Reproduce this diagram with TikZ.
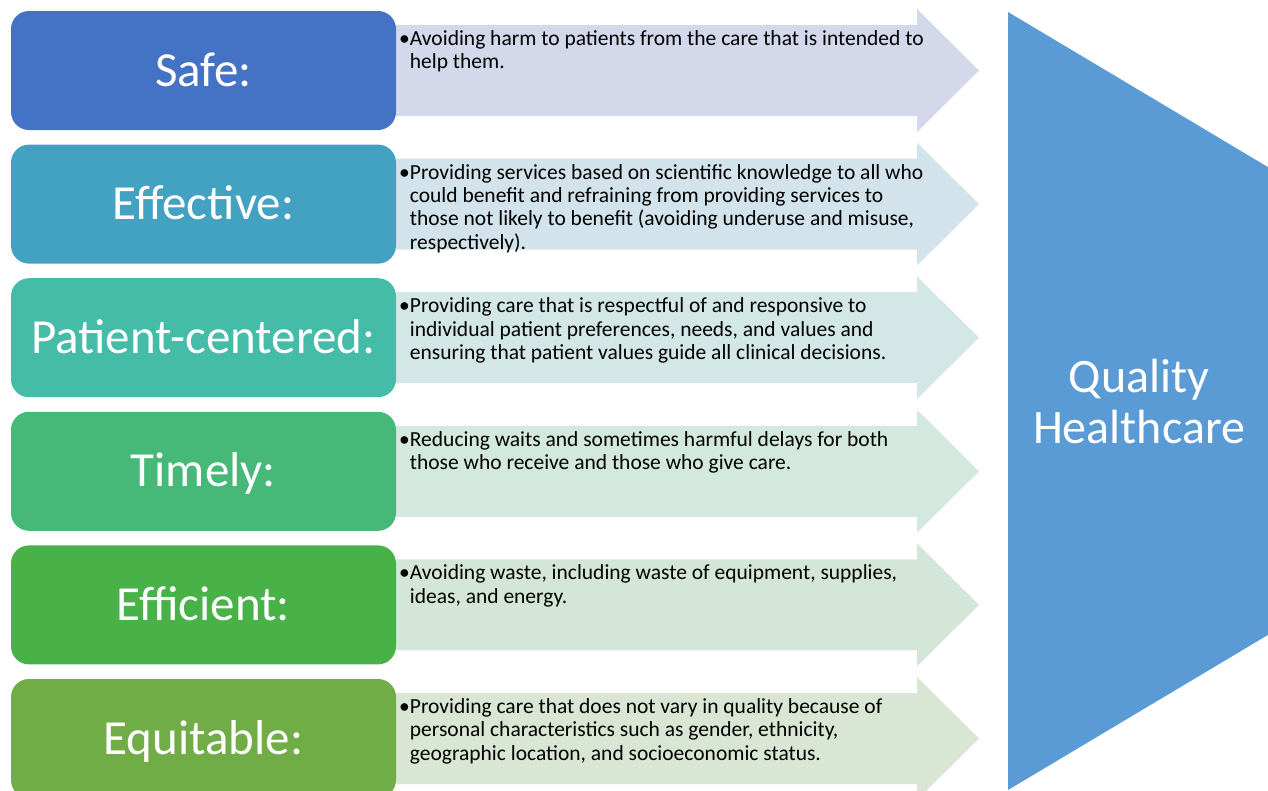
\documentclass[tikz,border=0pt]{standalone}
\usepackage{fontspec}
\setmainfont{Carlito}
\usepackage{tikz}

\definecolor{safe}{HTML}{4472C4}
\definecolor{effective}{HTML}{43A2C1}
\definecolor{patient}{HTML}{44BCA8}
\definecolor{timely}{HTML}{46B877}
\definecolor{efficient}{HTML}{48B148}
\definecolor{equitable}{HTML}{70AD47}
\definecolor{safeA}{HTML}{D3D8EB}
\definecolor{effectiveA}{HTML}{D2E3EB}
\definecolor{patientA}{HTML}{D3E8E6}
\definecolor{timelyA}{HTML}{D3E8DE}
\definecolor{efficientA}{HTML}{D4E6D7}
\definecolor{equitableA}{HTML}{D9E6D3}
\definecolor{quality}{HTML}{5B9BD5}

\begin{document}
\begin{tikzpicture}
[every node/.style={inner sep=0pt},
 box/.style={rounded corners=18pt, minimum width=385pt, minimum height=119pt, text height=31pt, text depth=0pt, text=white, font=\fontsize{49}{52}\selectfont},
 desc/.style={anchor=north west, font=\fontsize{21.5}{23.3}\selectfont}]
\useasboundingbox (0pt,0pt) rectangle (1268pt,-790pt);
\clip (0pt,0pt) rectangle (1268pt,-790pt);
% big arrow on the right
\fill [quality] (1008pt,-12pt) -- (1660pt,-401pt) -- (1008pt,-790pt) -- cycle;
\node (q) [align=center, text=white, font=\fontsize{48}{51}\selectfont] at (1139pt,-402pt) {Quality\\Healthcare};
% arrows behind the boxes
\fill [safeA] (396pt,-25pt) -- ++(521pt,0pt) -- ++(0pt,16pt) -- ++(62pt,-61.5pt) -- ++(-62pt,-61.5pt) -- ++(0pt,16pt) -- ++(-521pt,0pt) -- cycle;
\fill [effectiveA] (396pt,-158.6pt) -- ++(521pt,0pt) -- ++(0pt,16pt) -- ++(62pt,-61.5pt) -- ++(-62pt,-61.5pt) -- ++(0pt,16pt) -- ++(-521pt,0pt) -- cycle;
\fill [patientA] (396pt,-292.2pt) -- ++(521pt,0pt) -- ++(0pt,16pt) -- ++(62pt,-61.5pt) -- ++(-62pt,-61.5pt) -- ++(0pt,16pt) -- ++(-521pt,0pt) -- cycle;
\fill [timelyA] (396pt,-425.8pt) -- ++(521pt,0pt) -- ++(0pt,16pt) -- ++(62pt,-61.5pt) -- ++(-62pt,-61.5pt) -- ++(0pt,16pt) -- ++(-521pt,0pt) -- cycle;
\fill [efficientA] (396pt,-559.4pt) -- ++(521pt,0pt) -- ++(0pt,16pt) -- ++(62pt,-61.5pt) -- ++(-62pt,-61.5pt) -- ++(0pt,16pt) -- ++(-521pt,0pt) -- cycle;
\fill [equitableA] (396pt,-693pt) -- ++(521pt,0pt) -- ++(0pt,16pt) -- ++(62pt,-61.5pt) -- ++(-62pt,-61.5pt) -- ++(0pt,16pt) -- ++(-521pt,0pt) -- cycle;
% label boxes
\node (safe) [box, fill=safe] at (203.5pt,-70.5pt) {Safe:};
\node (effective) [box, fill=effective] at (203.5pt,-204.1pt) {Effective:};
\node (patient) [box, fill=patient] at (203.5pt,-337.7pt) {Patient-centered:};
\node (timely) [box, fill=timely] at (203.5pt,-471.3pt) {Timely:};
\node (efficient) [box, fill=efficient] at (203.5pt,-604.9pt) {Efficient:};
\node (equitable) [box, fill=equitable] at (203.5pt,-738.5pt) {Equitable:};
% descriptions
\node (safe-d) [desc] at (399pt,-29pt) {\begin{tabular}{@{}l@{}l@{}}\textbullet&Avoiding harm to patients from the care that is intended to\\&help them.\end{tabular}};
\node (effective-d) [desc] at (399pt,-162.6pt) {\begin{tabular}{@{}l@{}l@{}}\textbullet&Providing services based on scientific knowledge to all who\\&could benefit and refraining from providing services to\\&those not likely to benefit (avoiding underuse and misuse,\\&respectively).\end{tabular}};
\node (patient-d) [desc] at (399pt,-296.2pt) {\begin{tabular}{@{}l@{}l@{}}\textbullet&Providing care that is respectful of and responsive to\\&individual patient preferences, needs, and values and\\&ensuring that patient values guide all clinical decisions.\end{tabular}};
\node (timely-d) [desc] at (399pt,-429.8pt) {\begin{tabular}{@{}l@{}l@{}}\textbullet&Reducing waits and sometimes harmful delays for both\\&those who receive and those who give care.\end{tabular}};
\node (efficient-d) [desc] at (399pt,-563.4pt) {\begin{tabular}{@{}l@{}l@{}}\textbullet&Avoiding waste, including waste of equipment, supplies,\\&ideas, and energy.\end{tabular}};
\node (equitable-d) [desc] at (399pt,-697pt) {\begin{tabular}{@{}l@{}l@{}}\textbullet&Providing care that does not vary in quality because of\\&personal characteristics such as gender, ethnicity,\\&geographic location, and socioeconomic status.\end{tabular}};
\end{tikzpicture}
\end{document}
